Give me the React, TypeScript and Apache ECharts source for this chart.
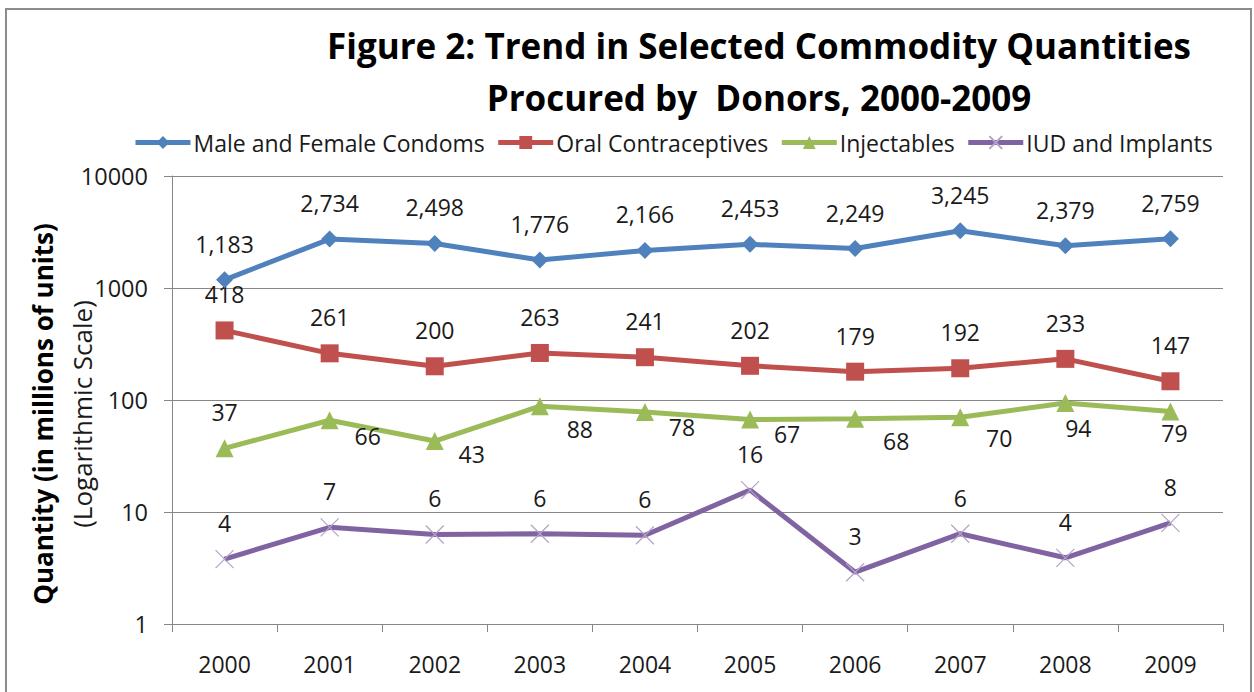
import React, { useEffect, useRef } from "react";
import * as echarts from "echarts";

const years = ["2000", "2001", "2002", "2003", "2004", "2005", "2006", "2007", "2008", "2009"];
const condoms = [1183, 2734, 2498, 1776, 2166, 2453, 2249, 3245, 2379, 2759];
const oral = [418, 261, 200, 263, 241, 202, 179, 192, 233, 147];
const injectables = [37, 66, 43, 88, 78, 67, 68, 70, 94, 79];
const iud = [3.8, 7.3, 6.3, 6.4, 6.2, 15.7, 2.9, 6.4, 3.9, 8.0];
const yTicks = [1, 10, 100, 1000, 10000];

// label placement (offsets from the marker centre)
const injLabelOffsets = [[0, -36], [38, 16], [37, 13], [40, 23], [37, 15], [37, 15], [41, 22], [39, 21], [13, 25], [4, 22]];

const FONT = "'Open Sans', Lato, sans-serif";
const fmt = (v: number) => Math.round(v).toLocaleString("en-US");

export default function App() {
  const ref = useRef<HTMLDivElement>(null);
  useEffect(() => {
    if (!ref.current) return;
    const chart = echarts.init(ref.current, undefined, { renderer: "svg" });
    const labelBase = {
      show: true,
      position: "inside",
      offset: [0, -36],
      fontSize: 23,
      fontFamily: FONT,
      color: "#1a1a1a",
      formatter: (p: any) => fmt(p.value),
    };
    chart.setOption({
      animation: false,
      backgroundColor: "#ffffff",
      textStyle: { fontFamily: FONT },
      title: {
        text: "Figure 2: Trend in Selected Commodity Quantities\nProcured by  Donors, 2000-2009",
        left: 754,
        top: 14,
        textAlign: "center",
        textStyle: { fontSize: 35, fontWeight: "bold", lineHeight: 52, color: "#000", fontFamily: FONT },
      },
      legend: {
        left: 128,
        top: 126,
        itemWidth: 55,
        itemHeight: 16,
        itemGap: 11,
        lineStyle: { width: 5 },
        textStyle: { fontSize: 23, color: "#1a1a1a", fontFamily: FONT, padding: [0, 0, 0, -2] },
        data: ["Male and Female Condoms", "Oral Contraceptives", "Injectables", "IUD and Implants"],
      },
      grid: { left: 172, right: 31, top: 176, bottom: 68, containLabel: false },
      xAxis: {
        type: "category",
        data: years,
        boundaryGap: true,
        axisLine: { lineStyle: { color: "#868686", width: 1 } },
        axisTick: { show: true, length: 8, lineStyle: { color: "#868686" } },
        axisLabel: { fontSize: 23, color: "#1a1a1a", margin: 28, fontFamily: FONT },
      },
      yAxis: {
        type: "log",
        logBase: 10,
        min: yTicks[0],
        max: yTicks[yTicks.length - 1],
        axisLine: { show: true, lineStyle: { color: "#868686", width: 1 } },
        axisTick: { show: true, length: 8, lineStyle: { color: "#868686" } },
        axisLabel: { fontSize: 23.5, color: "#1a1a1a", margin: 24, fontFamily: FONT, formatter: (v: number) => String(Math.round(v)) },
        splitLine: { show: true, lineStyle: { color: "#868686", width: 1 } },
      },
      graphic: [
        {
          type: "rect",
          shape: { x: 6, y: 9, width: 1245, height: 700 },
          style: { fill: "none", stroke: "#8c8c8c", lineWidth: 2 },
          silent: true,
        },
        {
          type: "text",
          x: 43,
          y: 414,
          rotation: Math.PI / 2,
          style: {
            text: "Quantity (in millions of units)",
            fontSize: 26,
            fontWeight: "bold",
            fontFamily: FONT,
            fill: "#000",
            align: "center",
            verticalAlign: "middle",
          },
        },
        {
          type: "text",
          x: 82,
          y: 414,
          rotation: Math.PI / 2,
          style: {
            text: "(Logarithmic Scale)",
            fontSize: 26,
            fontFamily: FONT,
            fill: "#1a1a1a",
            align: "center",
            verticalAlign: "middle",
          },
        },
      ],
      series: [
        {
          name: "Male and Female Condoms",
          type: "line",
          data: condoms,
          symbol: "diamond",
          symbolSize: 17,
          lineStyle: { color: "#4F81BD", width: 5 },
          itemStyle: { color: "#4F81BD" },
          label: labelBase,
          z: 4,
        },
        {
          name: "Oral Contraceptives",
          type: "line",
          data: oral,
          symbol: "rect",
          symbolSize: 18,
          lineStyle: { color: "#C0504D", width: 5 },
          itemStyle: { color: "#C0504D" },
          label: labelBase,
          z: 3,
        },
        {
          name: "Injectables",
          type: "line",
          data: injectables.map((v, i) => ({
            value: v,
            label: { offset: injLabelOffsets[i] },
          })),
          symbol: "triangle",
          symbolSize: 18,
          lineStyle: { color: "#9BBB59", width: 5 },
          itemStyle: { color: "#9BBB59" },
          label: labelBase,
          z: 2,
        },
        {
          name: "IUD and Implants",
          type: "line",
          data: iud,
          symbol: "path://M0,0L10,10M10,0L0,10",
          symbolSize: 18,
          lineStyle: { color: "#8064A2", width: 5 },
          itemStyle: { color: "#B3A2C7", borderColor: "#B3A2C7", borderWidth: 1.2 },
          label: labelBase,
          z: 1,
        },
      ],
    });
    return () => chart.dispose();
  }, []);
  return <div ref={ref} style={{ position: "fixed", left: 0, top: 0, width: 1254, height: 692 }} />;
}
